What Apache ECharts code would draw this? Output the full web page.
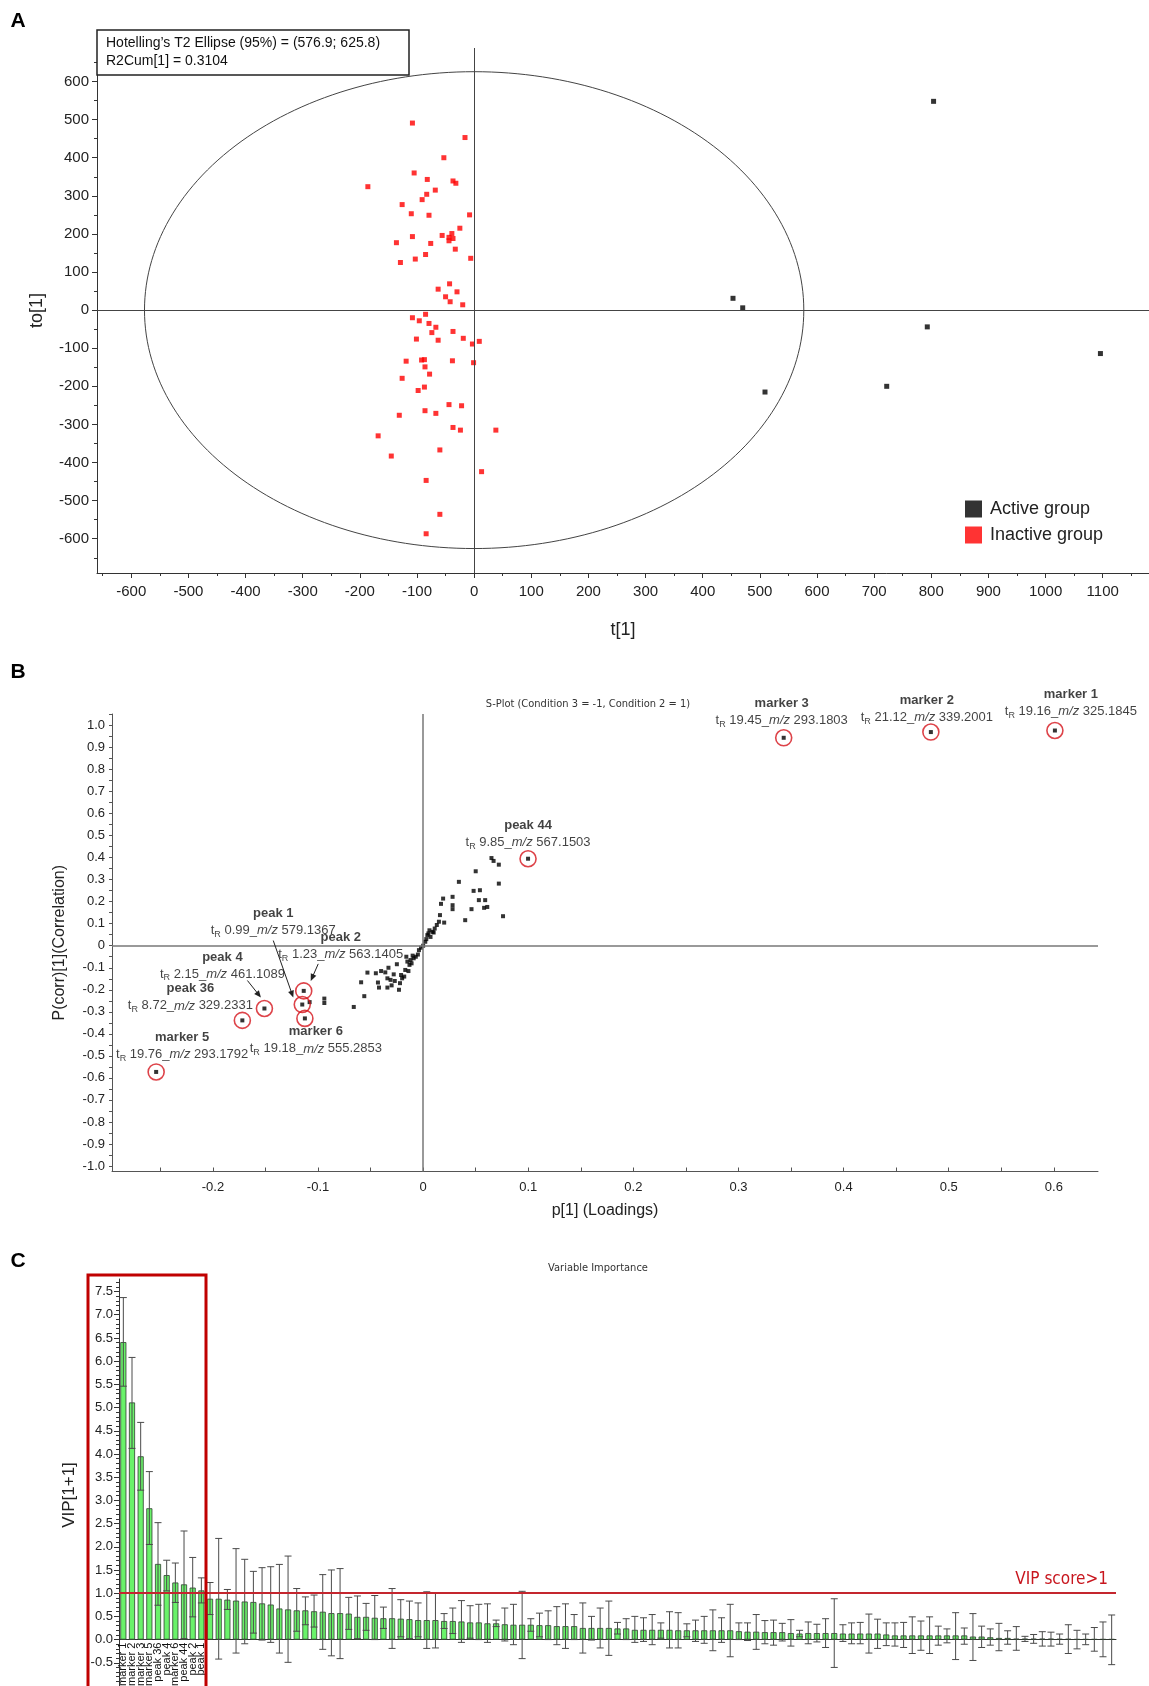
<!DOCTYPE html>
<html>
<head>
<meta charset="utf-8">
<script src="https://cdn.jsdelivr.net/npm/echarts@6/dist/echarts.min.js"></script>
<style>
  html, body { margin: 0; padding: 0; background: #fff; }
  #main { width: 1149px; height: 1686px; }
</style>
</head>
<body>
<div id="main"></div>
<script>
// ---------- A: score plot ----------
var activeT  = [804, 453, 470, 793, 1096, 722, 509];
var activeTo = [548, 31, 6, -44, -114, -200, -215];

var inactiveT = [-108, -16, -53, -105, -186, -82, -37, -32, -68, -83, -91, -126, -110, -79, -8, -25,
  -108, -136, -76, -56, -39, -44, -37, -44, -33, -85, -103, -129, -6, -43, -63, -30, -50, -42, -20,
  -85, -108, -96, -79, -67, -74, -37, -101, -63, -19, 9, -3, -119, -92, -87, -38, -1, -86, -78, -126,
  -87, -98, -44, -22, -86, -131, -67, -37, -24, 38, -168, -60, -145, 13, -84, -60, -84];
var inactiveTo = [491, 453, 400, 360, 324, 343, 339, 333, 315, 304, 290, 277, 253, 249, 250, 215,
  193, 177, 175, 196, 201, 191, 188, 182, 160, 146, 134, 125, 136, 69, 55, 48, 35, 22, 14,
  -11, -20, -28, -35, -45, -59, -56, -76, -79, -74, -82, -89, -134, -131, -130, -133, -138, -149, -168, -179,
  -202, -211, -248, -251, -264, -276, -271, -308, -315, -315, -330, -367, -383, -424, -447, -536, -587];

var ellipseRadii = [576.9, 625.8];   // Hotelling's T2 (95%)
var scoreLabelsX = [-600, -500, -400, -300, -200, -100, 0, 100, 200, 300, 400, 500, 600, 700, 800, 900, 1000, 1100];
var scoreLabelsY = [-600, -500, -400, -300, -200, -100, 0, 100, 200, 300, 400, 500, 600];

// ---------- B: S-plot ----------
var sX = [-0.108, -0.094, -0.094, -0.066, -0.056, -0.059, -0.053, -0.043, -0.042, -0.040, -0.036, -0.034,
  -0.034, -0.033, -0.031, -0.027, -0.025, -0.023, -0.021, -0.020, -0.018, -0.017, -0.016, -0.015, -0.014,
  -0.013, -0.012, -0.010, -0.009, -0.007, -0.004, -0.002, 0.000, 0.002, 0.004, 0.005, 0.007, 0.009, 0.011,
  0.013, 0.015, 0.016, 0.017, 0.019, 0.020, 0.028, 0.028, 0.028, 0.034, 0.040, 0.046, 0.048, 0.050, 0.053,
  0.054, 0.059, 0.058, 0.061, 0.065, 0.067, 0.072, 0.072, 0.076,
  -0.005, -0.011, 0.003, 0.006, 0.010, -0.028, -0.030, -0.022, -0.045];
var sY = [-0.256, -0.240, -0.260, -0.278, -0.229, -0.166, -0.122, -0.167, -0.190, -0.115, -0.121, -0.148,
  -0.190, -0.100, -0.155, -0.160, -0.084, -0.200, -0.133, -0.148, -0.140, -0.110, -0.050, -0.072, -0.115,
  -0.087, -0.065, -0.045, -0.057, -0.050, -0.020, -0.009, 0.000, 0.018, 0.048, 0.056, 0.040, 0.063, 0.078,
  0.094, 0.109, 0.139, 0.190, 0.214, 0.105, 0.222, 0.184, 0.166, 0.290, 0.116, 0.166, 0.249, 0.338, 0.207,
  0.252, 0.207, 0.172, 0.176, 0.398, 0.385, 0.368, 0.282, 0.134,
  -0.040, -0.080, 0.030, 0.070, 0.060, -0.130, -0.180, -0.170, -0.125];

var hlNames = ['marker 1', 'marker 2', 'marker 3', 'peak 44', 'peak 1', 'peak 2', 'peak 4', 'peak 36', 'marker 5', 'marker 6'];
var hlRt    = ['19.16', '21.12', '19.45', '9.85', '0.99', '1.23', '2.15', '8.72', '19.76', '19.18'];
var hlMz    = ['325.1845', '339.2001', '293.1803', '567.1503', '579.1367', '563.1405', '461.1089', '329.2331', '293.1792', '555.2853'];
var hlX     = [0.601, 0.483, 0.343, 0.0998, -0.115, -0.1136, -0.151, -0.172, -0.254, -0.1125];
var hlY     = [0.977, 0.970, 0.944, 0.395, -0.267, -0.205, -0.285, -0.339, -0.573, -0.330];
var sLabelsX = [-0.2, -0.1, 0, 0.1, 0.2, 0.3, 0.4, 0.5, 0.6];
var sLabelsY = [-1.0, -0.9, -0.8, -0.7, -0.6, -0.5, -0.4, -0.3, -0.2, -0.1, 0, 0.1, 0.2, 0.3, 0.4, 0.5, 0.6, 0.7, 0.8, 0.9, 1.0];

// ---------- C: VIP ----------
var vipNames = ['marker 1', 'marker 2', 'marker 3', 'marker 5', 'peak 36', 'peak 4', 'marker 6', 'peak 44', 'peak 2', 'peak 1'];
var vip = [6.41, 5.11, 3.95, 2.83, 1.63, 1.39, 1.23, 1.19, 1.12, 1.06,
  0.88, 0.88, 0.86, 0.84, 0.82, 0.81, 0.78, 0.755, 0.67, 0.65,
  0.63, 0.63, 0.61, 0.60, 0.57, 0.57, 0.56, 0.49, 0.49, 0.47,
  0.46, 0.46, 0.45, 0.44, 0.42, 0.42, 0.42, 0.40, 0.40, 0.39,
  0.37, 0.37, 0.35, 0.35, 0.33, 0.32, 0.32, 0.32, 0.31, 0.31,
  0.29, 0.29, 0.29, 0.25, 0.25, 0.25, 0.25, 0.24, 0.24, 0.21,
  0.21, 0.21, 0.21, 0.21, 0.20, 0.20, 0.20, 0.20, 0.20, 0.20,
  0.20, 0.18, 0.17, 0.17, 0.16, 0.16, 0.16, 0.14, 0.13, 0.14,
  0.14, 0.14, 0.14, 0.13, 0.13, 0.13, 0.13, 0.13, 0.11, 0.09,
  0.09, 0.09, 0.09, 0.09, 0.09, 0.09, 0.09, 0.09, 0.065, 0.065,
  0.05, 0.035, 0.035, 0.02, 0.02, 0.02, 0.02, 0.02, 0.015, 0.015,
  0.01, 0.01, 0.01, 0.01, 0.01];
var vipHigh = [7.37, 6.08, 4.68, 3.62, 2.52, 1.71, 1.65, 2.34, 1.77, 1.33,
  1.23, 2.18, 1.08, 1.96, 1.73, 1.47, 1.55, 1.57, 1.62, 1.80,
  1.10, 0.92, 0.96, 1.40, 1.50, 1.53, 0.91, 0.94, 0.78, 0.95,
  0.70, 1.10, 0.86, 0.83, 0.79, 1.03, 1.01, 0.56, 0.68, 0.84,
  0.73, 0.76, 0.77, 0.42, 0.68, 0.76, 1.04, 0.45, 0.57, 0.62,
  0.71, 0.77, 0.54, 0.79, 0.50, 0.68, 0.83, 0.37, 0.45, 0.50,
  0.47, 0.54, 0.36, 0.60, 0.58, 0.34, 0.42, 0.50, 0.64, 0.47,
  0.76, 0.36, 0.36, 0.54, 0.41, 0.42, 0.35, 0.43, 0.20, 0.38,
  0.33, 0.45, 0.88, 0.32, 0.36, 0.37, 0.55, 0.44, 0.36, 0.36,
  0.37, 0.49, 0.40, 0.49, 0.29, 0.23, 0.58, 0.25, 0.56, 0.29,
  0.23, 0.35, 0.19, 0.28, 0.07, 0.11, 0.17, 0.16, 0.12, 0.32,
  0.20, 0.12, 0.26, 0.38, 0.53];
var vipLow = [5.46, 4.12, 3.22, 2.05, 0.74, 1.05, 0.80, 0.02, 0.49, 0.79,
  0.54, -0.42, 0.65, -0.29, -0.09, 0.14, -0.01, -0.06, -0.29, -0.49,
  0.18, 0.32, 0.27, -0.21, -0.35, -0.41, 0.22, 0.02, 0.20, 0.00,
  0.24, -0.19, 0.06, 0.02, 0.06, -0.19, -0.18, 0.24, 0.13, -0.06,
  0.03, 0.00, -0.06, 0.28, -0.03, -0.11, -0.41, 0.18, 0.06, 0.00,
  -0.11, -0.19, 0.00, -0.29, -0.01, -0.18, -0.34, 0.12, 0.00, -0.06,
  -0.04, -0.11, 0.03, -0.18, -0.18, 0.06, -0.04, -0.08, -0.24, -0.06,
  -0.37, 0.00, -0.02, -0.21, -0.09, -0.12, -0.03, -0.14, 0.06, -0.09,
  -0.05, -0.17, -0.60, -0.04, -0.09, -0.09, -0.29, -0.19, -0.13, -0.14,
  -0.17, -0.30, -0.23, -0.30, -0.12, -0.07, -0.43, -0.10, -0.45, -0.17,
  -0.12, -0.24, -0.10, -0.23, -0.04, -0.08, -0.14, -0.14, -0.10, -0.30,
  -0.20, -0.11, -0.25, -0.37, -0.54];
var vipLabelsY = [-0.5, 0, 0.5, 1.0, 1.5, 2.0, 2.5, 3.0, 3.5, 4.0, 4.5, 5.0, 5.5, 6.0, 6.5, 7.0, 7.5];

// ---------- helpers ----------
var FONT = "'Liberation Sans', Arial, sans-serif";
var NARROW = "'Liberation Sans Narrow', 'DejaVu Sans Condensed', sans-serif";

function steps(a, b, s) {
  var out = [];
  for (var v = a; v <= b + s / 1000; v += s) out.push(Math.round(v * 1000) / 1000);
  return out;
}
function oneDec(v) { return Math.abs(v) < 1e-9 ? '0' : v.toFixed(1); }
function plain(v) { return String(Math.round(v)); }

var ellipse = [];
for (var k = 0; k <= 240; k++) {
  var a = k / 240 * Math.PI * 2;
  ellipse.push([ellipseRadii[0] * Math.cos(a), ellipseRadii[1] * Math.sin(a)]);
}

var categories = vip.map(function (v, i) { return i < vipNames.length ? vipNames[i] : 'v' + (i + 1); });
var errData = vip.map(function (v, i) { return [i, vipLow[i], vipHigh[i]]; });

var hlOffset = [[16, -28], [-4, -23], [-2, -26], [0, -25], [-29, -83], [37, -45], [-42, -43], [-52, -23], [26, -26], [11, 22]];
var hlData = hlX.map(function (x, i) {
  return {
    value: [x, hlY[i]],
    label: {
      offset: hlOffset[i],
      formatter: '{b|' + hlNames[i] + '}\n{n|t}{s|R}{n| ' + hlRt[i] + '_}{i|m/z}{n| ' + hlMz[i] + '}'
    }
  };
});

// panel C value range; the category axis sits on VIP = 0
var vipMin = -1.0, vipMax = 7.77, gridCHeight = 407;
var zeroOffset = -gridCHeight * (0 - vipMin) / (vipMax - vipMin);

var chart = echarts.init(document.getElementById('main'), null, { renderer: 'canvas' });

var axisCol = '#333';
var option = {
  animation: false,
  backgroundColor: '#fff',
  grid: [
    { left: 97, top: 48, width: 1052, height: 525, outerBoundsMode: 'none', containLabel: false },
    { left: 112, top: 714, width: 986, height: 457.5, outerBoundsMode: 'none', containLabel: false },
    { left: 119, top: 1279, width: 997, height: gridCHeight, outerBoundsMode: 'none', containLabel: false }
  ],
  legend: {
    data: ['Active group', 'Inactive group'],
    orient: 'vertical', left: 960, top: 495,
    icon: 'rect', itemWidth: 17, itemHeight: 17, itemGap: 8,
    textStyle: { fontSize: 18, color: '#222', fontFamily: FONT, padding: [0, 0, 0, 3] }
  },
  xAxis: [
    { gridIndex: 0, type: 'value', min: -660, max: 1181, position: 'bottom',
      splitLine: { show: false },
      axisLine: { onZero: false, lineStyle: { color: axisCol } },
      axisTick: { customValues: scoreLabelsX, length: 5, lineStyle: { color: axisCol } },
      axisLabel: { customValues: scoreLabelsX, formatter: plain, fontSize: 15, color: '#222', margin: 11, fontFamily: FONT },
      name: 't[1]', nameLocation: 'middle', nameGap: 48,
      nameTextStyle: { fontSize: 18, color: '#222', fontFamily: FONT } },
    { gridIndex: 0, type: 'value', min: -660, max: 1181, position: 'bottom',
      splitLine: { show: false }, axisLine: { show: false, onZero: false },
      axisTick: { customValues: steps(-650, 1150, 50), length: 3, lineStyle: { color: axisCol } },
      axisLabel: { show: false } },
    { gridIndex: 1, type: 'value', min: -0.296, max: 0.642, position: 'bottom',
      splitLine: { show: false },
      axisLine: { onZero: false, lineStyle: { color: '#555' } },
      axisTick: { customValues: steps(-0.25, 0.6, 0.05), inside: true, length: 4, lineStyle: { color: '#555' } },
      axisLabel: { customValues: sLabelsX, formatter: oneDec, fontSize: 13, color: '#222', margin: 9, fontFamily: FONT },
      name: 'p[1] (Loadings)', nameLocation: 'middle', nameGap: 31,
      nameTextStyle: { fontSize: 16, color: '#222', fontFamily: FONT } },
    { gridIndex: 2, type: 'category', data: categories, position: 'bottom', offset: zeroOffset,
      axisLine: { onZero: false, lineStyle: { color: axisCol } },
      axisTick: { show: false },
      axisLabel: { interval: 0, rotate: 90, fontSize: 11, color: '#111', margin: 3, fontFamily: FONT,
        hideOverlap: false,
        formatter: function (v, i) { return i < vipNames.length ? v : ''; } } }
  ],
  yAxis: [
    { gridIndex: 0, type: 'value', min: -690, max: 688, position: 'left',
      splitLine: { show: false },
      axisLine: { show: true, onZero: false, lineStyle: { color: axisCol } },
      axisTick: { show: true, customValues: scoreLabelsY, length: 5, lineStyle: { color: axisCol } },
      axisLabel: { customValues: scoreLabelsY, formatter: plain, fontSize: 15, color: '#222', margin: 8, fontFamily: FONT },
      name: 'to[1]', nameLocation: 'middle', nameGap: 51,
      nameTextStyle: { fontSize: 18, color: '#222', fontFamily: FONT } },
    { gridIndex: 0, type: 'value', min: -690, max: 688, position: 'left',
      splitLine: { show: false }, axisLine: { show: false, onZero: false },
      axisTick: { show: true, customValues: steps(-650, 650, 50), length: 3, lineStyle: { color: axisCol } },
      axisLabel: { show: false } },
    { gridIndex: 1, type: 'value', min: -1.025, max: 1.052, position: 'left',
      splitLine: { show: false },
      axisLine: { show: true, onZero: false, lineStyle: { color: '#555' } },
      axisTick: { show: true, customValues: steps(-1.0, 1.05, 0.05), length: 3, lineStyle: { color: '#555' } },
      axisLabel: { customValues: sLabelsY, formatter: oneDec, fontSize: 13, color: '#222', margin: 7, fontFamily: FONT },
      name: 'P(corr)[1](Correlation)', nameLocation: 'middle', nameGap: 44,
      nameTextStyle: { fontSize: 16, color: '#222', fontFamily: FONT } },
    { gridIndex: 2, type: 'value', min: vipMin, max: vipMax, position: 'left',
      splitLine: { show: false },
      axisLine: { show: true, onZero: false, lineStyle: { color: axisCol } },
      axisTick: { show: true, customValues: vipLabelsY, length: 5, lineStyle: { color: axisCol } },
      axisLabel: { customValues: vipLabelsY, formatter: function (v) { return v.toFixed(1); },
        fontSize: 13, color: '#222', margin: 6, fontFamily: FONT } },
    { gridIndex: 2, type: 'value', min: vipMin, max: vipMax, position: 'left',
      splitLine: { show: false }, axisLine: { show: false, onZero: false },
      axisTick: { show: true, customValues: steps(-0.9, 7.7, 0.1), length: 3, lineStyle: { color: axisCol } },
      axisLabel: { show: false } }
  ],
  series: [
    // A
    { type: 'line', xAxisIndex: 0, yAxisIndex: 0, data: ellipse, showSymbol: false, silent: true,
      lineStyle: { color: '#444', width: 1 }, z: 1,
      markLine: { silent: true, symbol: 'none', label: { show: false },
        lineStyle: { color: '#444', width: 1, type: 'solid' },
        data: [{ yAxis: 0 }, { xAxis: 0 }] } },
    { name: 'Active group', type: 'scatter', xAxisIndex: 0, yAxisIndex: 0, symbol: 'rect', symbolSize: 5,
      itemStyle: { color: '#000' }, data: activeT.map(function (x, i) { return [x, activeTo[i]]; }), z: 3 },
    { name: 'Inactive group', type: 'scatter', xAxisIndex: 0, yAxisIndex: 0, symbol: 'rect', symbolSize: 5,
      itemStyle: { color: '#ff0000' }, data: inactiveT.map(function (x, i) { return [x, inactiveTo[i]]; }), z: 3 },
    // B
    { type: 'scatter', xAxisIndex: 2, yAxisIndex: 2, symbol: 'rect', symbolSize: 4,
      itemStyle: { color: '#000' }, data: sX.map(function (x, i) { return [x, sY[i]]; }),
      markLine: { silent: true, symbol: 'none', label: { show: false },
        lineStyle: { color: '#777', width: 1.5, type: 'solid' },
        data: [{ yAxis: 0 }, { xAxis: 0 }] } },
    { type: 'scatter', xAxisIndex: 2, yAxisIndex: 2, symbol: 'circle', symbolSize: 16,
      itemStyle: { color: 'rgba(0,0,0,0)', borderColor: '#d4141c', borderWidth: 1.6 },
      data: hlX.map(function (x, i) { return [x, hlY[i]]; }), z: 4 },
    { type: 'scatter', xAxisIndex: 2, yAxisIndex: 2, symbol: 'rect', symbolSize: 4,
      itemStyle: { color: '#000' }, data: hlData, z: 5,
      label: { show: true, position: 'inside', align: 'center', verticalAlign: 'middle', color: '#111',
        fontFamily: FONT,
        rich: {
          b: { fontWeight: 'bold', fontSize: 13, lineHeight: 17, fontFamily: FONT, color: '#111' },
          n: { fontSize: 13, lineHeight: 17, fontFamily: FONT, color: '#111' },
          i: { fontSize: 13, lineHeight: 17, fontStyle: 'italic', fontFamily: FONT, color: '#111' },
          s: { fontSize: 9, lineHeight: 17, verticalAlign: 'bottom', fontFamily: FONT, color: '#111' }
        } } },
    // C
    { type: 'bar', xAxisIndex: 3, yAxisIndex: 3, data: vip, barWidth: '70%',
      itemStyle: { color: '#6af26a', borderColor: '#2f3f2f', borderWidth: 0.8 },
      markLine: { silent: true, symbol: 'none',
        lineStyle: { color: '#c4262e', width: 2, type: 'solid' },
        label: { show: true, position: 'insideEndTop', formatter: 'VIP score>1', color: '#c8161e',
          fontSize: 17, fontFamily: NARROW, distance: [8, 5] },
        data: [{ yAxis: 1 }] } },
    { type: 'custom', xAxisIndex: 3, yAxisIndex: 3, data: errData, z: 4,
      encode: { x: 0, y: [1, 2] },
      renderItem: function (params, api) {
        var lo = api.coord([api.value(0), api.value(1)]);
        var hi = api.coord([api.value(0), api.value(2)]);
        var w = 3.5;
        var st = { stroke: '#4a4a4a', lineWidth: 1 };
        return { type: 'group', children: [
          { type: 'line', shape: { x1: hi[0], y1: hi[1], x2: lo[0], y2: lo[1] }, style: st },
          { type: 'line', shape: { x1: hi[0] - w, y1: hi[1], x2: hi[0] + w, y2: hi[1] }, style: st },
          { type: 'line', shape: { x1: lo[0] - w, y1: lo[1], x2: lo[0] + w, y2: lo[1] }, style: st }
        ] };
      } }
  ],
  graphic: [
    { id: 'lA', type: 'text', x: 18, y: 21, z: 100,
      style: { text: 'A', font: 'bold 21px ' + FONT, fill: '#000', align: 'center', verticalAlign: 'middle' } },
    { id: 'lB', type: 'text', x: 18, y: 672, z: 100,
      style: { text: 'B', font: 'bold 21px ' + FONT, fill: '#000', align: 'center', verticalAlign: 'middle' } },
    { id: 'lC', type: 'text', x: 18, y: 1261, z: 100,
      style: { text: 'C', font: 'bold 21px ' + FONT, fill: '#000', align: 'center', verticalAlign: 'middle' } },
    { id: 'hbox', type: 'rect', z: 100, shape: { x: 97, y: 30, width: 312, height: 45 },
      style: { fill: '#fff', stroke: '#222', lineWidth: 1.5 } },
    { id: 'htxt1', type: 'text', z: 101, x: 106, y: 43.5,
      style: { text: 'Hotelling\u2019s T2 Ellipse (95%) = (576.9; 625.8)', font: '14px ' + FONT, fill: '#111', verticalAlign: 'middle' } },
    { id: 'htxt2', type: 'text', z: 101, x: 106, y: 61,
      style: { text: 'R2Cum[1] = 0.3104', font: '14px ' + FONT, fill: '#111', verticalAlign: 'middle' } },
    { id: 'stitle', type: 'text', z: 100, x: 588, y: 704,
      style: { text: 'S-Plot (Condition 3 = -1, Condition 2 = 1)', font: '11px ' + NARROW, fill: '#333', align: 'center', verticalAlign: 'middle' } },
    { id: 'vtitle', type: 'text', z: 100, x: 598, y: 1268,
      style: { text: 'Variable Importance', font: '11px ' + NARROW, fill: '#333', align: 'center', verticalAlign: 'middle' } },
    { id: 'vipname', type: 'text', z: 100, x: 69, y: 1495, rotation: Math.PI / 2,
      style: { text: 'VIP[1+1]', font: '17px ' + FONT, fill: '#222', align: 'center', verticalAlign: 'middle' } },
    { id: 'redbox', type: 'rect', z: 100, shape: { x: 88, y: 1275, width: 118, height: 420 },
      style: { fill: 'none', stroke: '#c00000', lineWidth: 3 } }
  ]
};

chart.setOption(option);

// arrows pointing at peak 1, peak 2, peak 4
var arrowTargets = ['peak 1', 'peak 2', 'peak 4'];
var arrowFrom = [[-29, -64], [14.5, -27], [-17, -28]];
var arrowTo = [[-9, -7], [7, -10], [-3.5, -11]];
var arrows = [];
arrowTargets.forEach(function (name, j) {
  var i = hlNames.indexOf(name);
  var p = chart.convertToPixel({ xAxisIndex: 2, yAxisIndex: 2 }, [hlX[i], hlY[i]]);
  var x1 = p[0] + arrowFrom[j][0], y1 = p[1] + arrowFrom[j][1];
  var x2 = p[0] + arrowTo[j][0], y2 = p[1] + arrowTo[j][1];
  var dx = x2 - x1, dy = y2 - y1, len = Math.sqrt(dx * dx + dy * dy);
  var ux = dx / len, uy = dy / len;
  arrows.push({ id: 'arl' + j, type: 'line', z: 100,
    shape: { x1: x1, y1: y1, x2: x2 - ux * 4, y2: y2 - uy * 4 },
    style: { stroke: '#222', lineWidth: 1 } });
  arrows.push({ id: 'arh' + j, type: 'polygon', z: 100,
    shape: { points: [[x2, y2], [x2 - ux * 7 - uy * 3, y2 - uy * 7 + ux * 3], [x2 - ux * 7 + uy * 3, y2 - uy * 7 - ux * 3]] },
    style: { fill: '#222' } });
});
chart.setOption({ graphic: arrows });
</script>
</body>
</html>
